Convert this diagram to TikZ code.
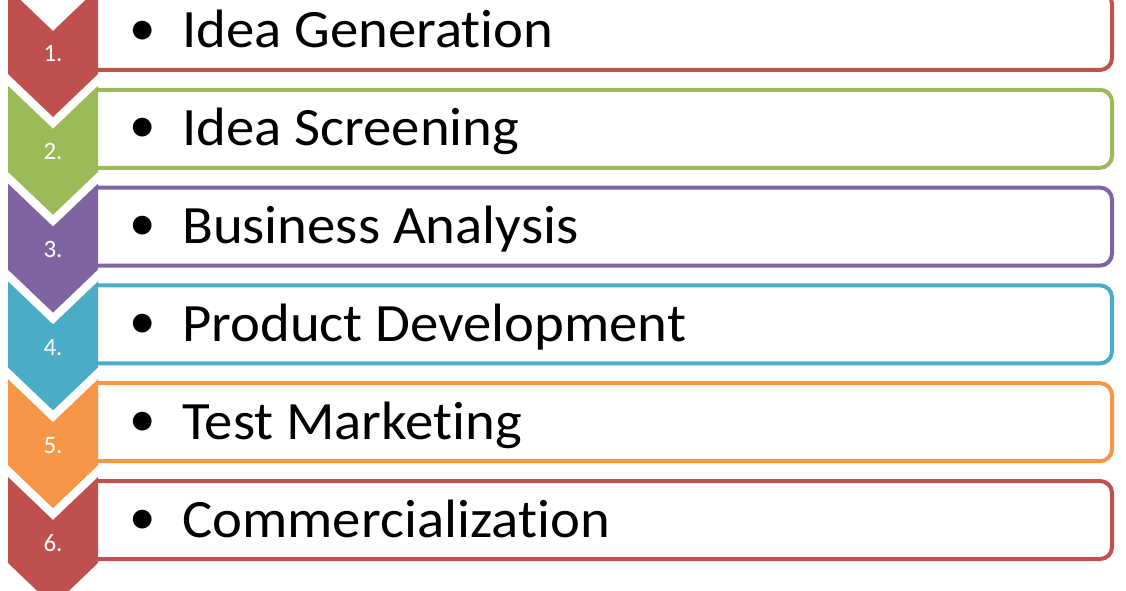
\documentclass[tikz,border=0pt]{standalone}
\usepackage{fontspec}
\setmainfont[Ligatures=NoCommon,FakeStretch=1.05]{Carlito}
\newfontfamily\numfont{Carlito}
\definecolor{cRed}{HTML}{C0504D}
\definecolor{cGreen}{HTML}{9BBB59}
\definecolor{cPurple}{HTML}{8064A2}
\definecolor{cBlue}{HTML}{4BACC6}
\definecolor{cOrange}{HTML}{F79646}
\begin{document}
\begin{tikzpicture}[x=1pt,y=-1pt,
  stepframe/.style={line width=4pt,rounded corners=12pt},
  numlabel/.style={text=white,font=\numfont\fontsize{25}{25}\selectfont,inner sep=0pt},
  itemtext/.style={font=\fontsize{54}{54}\selectfont,inner sep=0pt,anchor=base west},
  bulletmark/.style={font=\numfont\fontsize{53}{53}\selectfont,inner sep=0pt}]
\useasboundingbox (0,0) rectangle (1126,591);
\fill[white] (0,0) rectangle (1126,591);
\foreach \i/\col/\num/\txt in {1/cRed/1./Idea Generation,2/cGreen/2./Idea Screening,3/cPurple/3./Business Analysis,4/cBlue/4./Product Development,5/cOrange/5./Test Marketing,6/cRed/6./Commercialization}{
  \pgfmathsetmacro{\off}{(\i-1)*97.8}
  % box
  \draw[stepframe,draw=\col] (98,-8+\off) -- (1112,-8+\off) -- (1112,70+\off) -- (98,70+\off);
  % chevron
  \fill[\col] (8,-12+\off) -- (53,31+\off) -- (98,-12+\off) -- (98,74+\off) -- (53,117+\off) -- (8,74+\off) -- cycle;
  \node[numlabel] (n\i) at (53,54+\off) {\num};
  \node[bulletmark] (b\i) at (143,33+\off) {\textbullet};
  \node[itemtext] (t\i) at (182,48+\off) {\txt};
}
\end{tikzpicture}
\end{document}
